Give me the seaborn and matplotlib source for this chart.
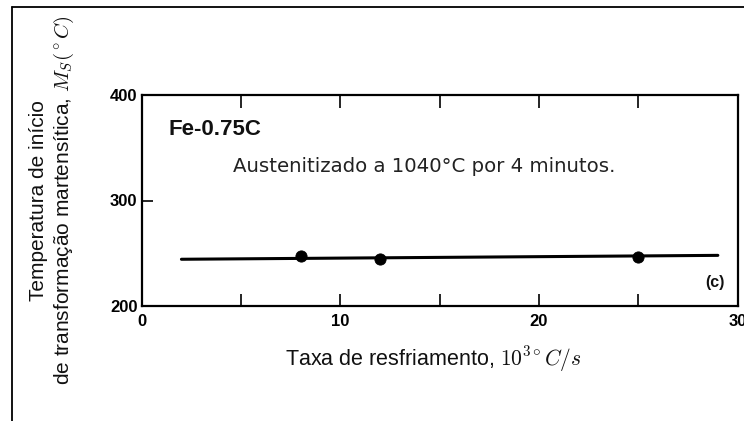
import matplotlib
matplotlib.use("Agg")
import matplotlib.pyplot as plt
import seaborn as sns
import pandas as pd
from matplotlib.lines import Line2D

# Data
rate_points = [8, 12, 25]          # 10^3 °C/s
ms_points = [247.4, 244.5, 246.0]  # °C
fit_x = [2, 29]
fit_y = [244.3, 248.0]
x_ticks = [0, 10, 20, 30]
y_ticks = [200, 300, 400]

sns.set_theme(style="ticks")
plt.rcParams['font.family'] = ['Liberation Sans', 'DejaVu Sans']
plt.rcParams['mathtext.fontset'] = 'cm'

fig = plt.figure(figsize=(7.44, 4.21), dpi=100)
ax = fig.add_axes([141.7/744, 1-306/421, (737.7-141.7)/744, (306-95)/421])

df_pts = pd.DataFrame({"x": rate_points, "y": ms_points})
df_fit = pd.DataFrame({"x": fit_x, "y": fit_y})
sns.lineplot(data=df_fit, x="x", y="y", ax=ax, color="black", linewidth=2.2)
sns.scatterplot(data=df_pts, x="x", y="y", ax=ax, color="black", s=65, edgecolor="black", zorder=3)

ax.set_xlim(0, 30)
ax.set_ylim(200, 400)
ax.set_xticks(x_ticks)
ax.set_xticklabels([str(v) for v in x_ticks], fontsize=12, fontweight='bold')
ax.set_xticks([5, 15, 25], minor=True)
ax.set_yticks(y_ticks)
ax.set_yticklabels([str(v) for v in y_ticks], fontsize=12, fontweight='bold')
ax.tick_params(axis='x', which='both', direction='in', length=9, width=1.2, top=True, pad=6, colors='black')
ax.tick_params(axis='y', which='both', direction='in', length=8, width=1.2, pad=3, colors='black')
for s in ax.spines.values():
    s.set_linewidth(1.6)
    s.set_color('black')

ax.set_xlabel(r"Taxa de resfriamento, $10^{3\circ}C/s$", fontsize=15.5, color='#111111')
ax.xaxis.set_label_coords(0.49, (306-344)/211)
ax.set_ylabel("Temperatura de início\nde transformação martensítica, $M_S(^\\circ C)$", fontsize=15,
              color='#111111', linespacing=1.2)
ax.yaxis.set_label_coords((76-141.7)/596, 0.5)

ax.text(168/744, 1-130/421, "Fe-0.75C", transform=fig.transFigure, fontsize=16,
        fontweight='bold', va='center', ha='left', color='#111111')
ax.text(233/744, 1-167/421, "Austenitizado a 1040°C por 4 minutos.", transform=fig.transFigure,
        fontsize=14.2, va='center', ha='left', family='DejaVu Sans', color='#222222')
ax.text(715/744, 1-283/421, "(c)", transform=fig.transFigure, fontsize=11.5,
        fontweight='bold', va='center', ha='center', color='#111111')

# outer border
fig.add_artist(Line2D([12/744, 12/744], [0, 1-7/421], transform=fig.transFigure, color='black', lw=1.3))
fig.add_artist(Line2D([12/744, 1], [1-7/421, 1-7/421], transform=fig.transFigure, color='black', lw=1.3))

fig.savefig("out.png", dpi=100)
